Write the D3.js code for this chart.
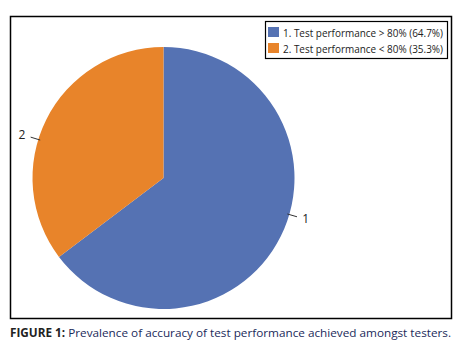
<!DOCTYPE html>
<html>
<head>
<meta charset="utf-8">
<script src="https://cdn.jsdelivr.net/npm/d3@7"></script>
<style>
  body { margin: 0; background: #fff; }
  svg { display: block; }
</style>
</head>
<body>
<div id="chart"></div>
<script>
// Datos del gráfico
const categories = ["1", "2"];
const legendLabels = ["1. Test performance > 80% (64.7%)", "2. Test performance < 80% (35.3%)"];
const values = [64.7, 35.3];
const colors = ["#5572b3", "#e8842a"];

const width = 468;
const height = 352;

const svg = d3.select("#chart")
    .append("svg")
    .attr("width", width)
    .attr("height", height);

// Marco exterior
svg.append("rect")
    .attr("x", 10.5)
    .attr("y", 16.5)
    .attr("width", 441)
    .attr("height", 302)
    .attr("fill", "none")
    .attr("stroke", "#000")
    .attr("stroke-width", 1.5);

const data = categories.map((c, i) => ({ category: c, value: values[i], label: legendLabels[i] }));

const cx = 163.5, cy = 178, radius = 131;

const pie = d3.pie().sort(null).value(d => d.value);
const arc = d3.arc().innerRadius(0).outerRadius(radius);

const g = svg.append("g").attr("transform", `translate(${cx},${cy})`);

const arcs = pie(data);

g.selectAll("path")
    .data(arcs)
    .enter()
    .append("path")
    .attr("d", arc)
    .attr("fill", (d, i) => colors[i]);

// Etiquetas con líneas guía
const innerPt = d3.arc().innerRadius(radius - 2).outerRadius(radius - 2);
const outerPt = d3.arc().innerRadius(radius + 8).outerRadius(radius + 8);
const labelPt = d3.arc().innerRadius(radius + 17).outerRadius(radius + 17);

// ángulos de las etiquetas (como en la original)
const labelAngles = [Math.PI * 0.59, Math.PI * 1.595];

arcs.forEach((d, i) => {
    const a = labelAngles[i];
    const p = { startAngle: a, endAngle: a };
    const p1 = innerPt.centroid(p);
    const p2 = outerPt.centroid(p);
    const p3 = labelPt.centroid(p);
    g.append("line")
        .attr("x1", p1[0]).attr("y1", p1[1])
        .attr("x2", p2[0]).attr("y2", p2[1])
        .attr("stroke", "#333")
        .attr("stroke-width", 1);
    g.append("text")
        .attr("x", p3[0])
        .attr("y", p3[1])
        .attr("dy", "0.35em")
        .attr("text-anchor", "middle")
        .attr("font-family", "'Open Sans', sans-serif")
        .attr("font-size", 12)
        .attr("fill", "#222")
        .text(d.data.category);
});

// Leyenda
const legend = svg.append("g");
legend.append("rect")
    .attr("x", 265.5)
    .attr("y", 21.5)
    .attr("width", 182)
    .attr("height", 37)
    .attr("fill", "#fff")
    .attr("stroke", "#000")
    .attr("stroke-width", 1.2);

const ly = d3.scaleBand().domain(categories).range([24, 56]);

legend.selectAll(".sw")
    .data(data)
    .enter()
    .append("rect")
    .attr("x", 268)
    .attr("y", d => ly(d.category) + 3)
    .attr("width", 11)
    .attr("height", 10)
    .attr("fill", (d, i) => colors[i]);

legend.selectAll(".lt")
    .data(data)
    .enter()
    .append("text")
    .attr("x", 283)
    .attr("y", d => ly(d.category) + ly.bandwidth() / 2 + 1)
    .attr("dy", "0.35em")
    .attr("font-family", "'Open Sans', sans-serif")
    .attr("font-size", 10)
    .attr("fill", "#222")
    .attr("textLength", 160)
    .attr("lengthAdjust", "spacingAndGlyphs")
    .text(d => d.label);

// Pie de figura
const caption = svg.append("text")
    .attr("x", 10)
    .attr("y", 337)
    .attr("font-family", "'Open Sans', sans-serif")
    .attr("font-size", 11.5)
    .attr("fill", "#1a2a5a")
    .attr("textLength", 441)
    .attr("lengthAdjust", "spacingAndGlyphs");
caption.append("tspan").attr("font-weight", "bold").attr("fill", "#222").text("FIGURE 1: ");
caption.append("tspan").text("Prevalence of accuracy of test performance achieved amongst testers.");
</script>
</body>
</html>
